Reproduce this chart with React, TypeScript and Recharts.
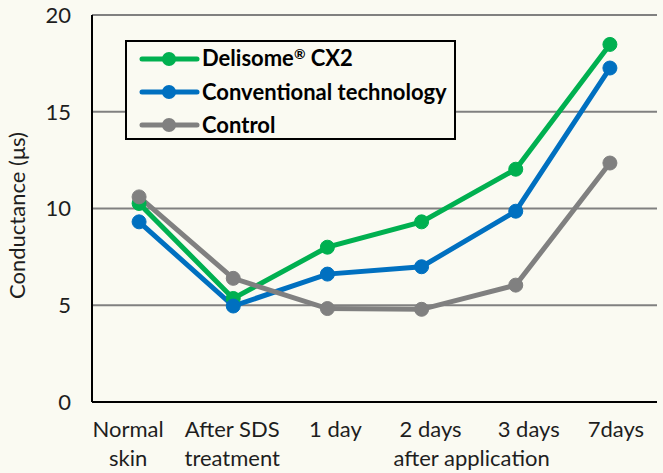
import React from "react";
import { LineChart, Line, XAxis, YAxis, CartesianGrid, Legend } from "recharts";

const categories = ["Normal skin", "After SDS treatment", "1 day", "2 days", "3 days", "7days"];
const tickLine1 = ["Normal", "After SDS", "1 day", "2 days", "3 days", "7days"];
const tickLine2 = ["skin", "treatment", "", "", "", ""];
const groupLabel = "after application";
const delisome = [10.26, 5.35, 8.0, 9.31, 12.03, 18.48];
const conventional = [9.31, 4.96, 6.61, 6.99, 9.86, 17.26];
const control = [10.6, 6.39, 4.83, 4.79, 6.04, 12.35];
const yTicks = [0, 5, 10, 15, 20];

const seriesNames = ["Delisome® CX2", "Conventional technology", "Control"];
const seriesKeys = ["delisome", "conventional", "control"];
const seriesColors = ["#00b050", "#0070c0", "#808080"];

const data = categories.map((c, i) => ({
  cat: c,
  delisome: delisome[i],
  conventional: conventional[i],
  control: control[i],
}));

const BG = "#fafaf2";
const FONT = "Lato, 'Open Sans', sans-serif";
const TEXT = "#1e1e1e";
const tickNudge = [-11, -1, 8, 9, 13, 6];

const XTick = (props: any) => {
  const { x, y, index } = props;
  const nx = x + (tickNudge[index] || 0);
  return (
    <g>
      <text x={nx} y={y + 27} textAnchor="middle" fontSize={22} fontFamily={FONT} fill={TEXT}>
        {tickLine1[index]}
      </text>
      {tickLine2[index] ? (
        <text x={nx} y={y + 56} textAnchor="middle" fontSize={22} fontFamily={FONT} fill={TEXT}>
          {tickLine2[index]}
        </text>
      ) : null}
      {index === 3 ? (
        <text x={x + 50} y={y + 56} textAnchor="middle" fontSize={22} fontFamily={FONT} fill={TEXT}>
          {groupLabel}
        </text>
      ) : null}
    </g>
  );
};

const renderName = (name: string) => {
  const parts = name.split("®");
  if (parts.length === 1) return name;
  return (
    <>
      {parts[0]}
      <span style={{ fontSize: 14, display: "inline-block", transform: "translateY(-7px)" }}>®</span>
      {parts[1]}
    </>
  );
};

const LegendBox = () => (
  <div
    style={{
      width: 327,
      height: 96,
      border: "2px solid #000",
      background: BG,
      boxSizing: "content-box",
      fontFamily: FONT,
    }}
  >
    {seriesNames.map((n, i) => (
      <div key={n} style={{ position: "relative", height: 33, display: "flex", alignItems: "center" }}>
        <svg width={75} height={33} style={{ display: "block" }}>
          <line x1={15} y1={17} x2={70} y2={17} stroke={seriesColors[i]} strokeWidth={5} strokeLinecap="round" />
          <circle cx={42} cy={17} r={7} fill={seriesColors[i]} />
        </svg>
        <span style={{ fontSize: 22, fontWeight: 700, color: "#000", whiteSpace: "nowrap", lineHeight: "33px" }}>
          {renderName(n)}
        </span>
      </div>
    ))}
  </div>
);

export default function App() {
  return (
    <div style={{ position: "fixed", left: 0, top: 0, width: 663, height: 473, background: BG }}>
      <LineChart width={663} height={473} data={data} margin={{ top: 15, right: 6, bottom: 0, left: 0 }}>
        <CartesianGrid horizontal vertical={false} stroke="#808080" strokeWidth={2} fill={BG} />
        <XAxis
          dataKey="cat"
          scale="band"
          height={71}
          tickLine={false}
          axisLine={{ stroke: "#000", strokeWidth: 2 }}
          tick={<XTick />}
          interval={0}
        />
        <XAxis xAxisId="top" orientation="top" scale="band" dataKey="cat" height={0} tick={false} tickLine={false} axisLine={{ stroke: "#000", strokeWidth: 2 }} />
        <YAxis
          width={92}
          domain={[0, 20]}
          ticks={yTicks}
          tickLine={false}
          tickSize={6}
          tickMargin={15}
          axisLine={{ stroke: "#000", strokeWidth: 2 }}
          tick={{ fontSize: 22, fontFamily: FONT, fill: TEXT }}
          label={{
            value: "Conductance (μs)",
            angle: -90,
            position: "insideLeft",
            dx: 12,
            dy: 7,
            style: { textAnchor: "middle", fontSize: 22, fontFamily: FONT, fill: TEXT },
          }}
        />
        <YAxis yAxisId="right" orientation="right" width={0} domain={[0, 20]} tick={false} tickLine={false} axisLine={{ stroke: "#000", strokeWidth: 2 }} />
        {seriesKeys.map((k, i) => (
          <Line
            key={k}
            dataKey={k}
            name={seriesNames[i]}
            stroke={seriesColors[i]}
            strokeWidth={5}
            dot={{ r: 7, fill: seriesColors[i], stroke: seriesColors[i], strokeWidth: 1 }}
            activeDot={false}
            isAnimationActive={false}
          />
        ))}
        <Legend
          layout="horizontal"
          verticalAlign="middle"
          align="center"
          content={<LegendBox />}
          wrapperStyle={{ position: "absolute", left: 125, top: 40, width: "auto", height: "auto" }}
        />
      </LineChart>
    </div>
  );
}
